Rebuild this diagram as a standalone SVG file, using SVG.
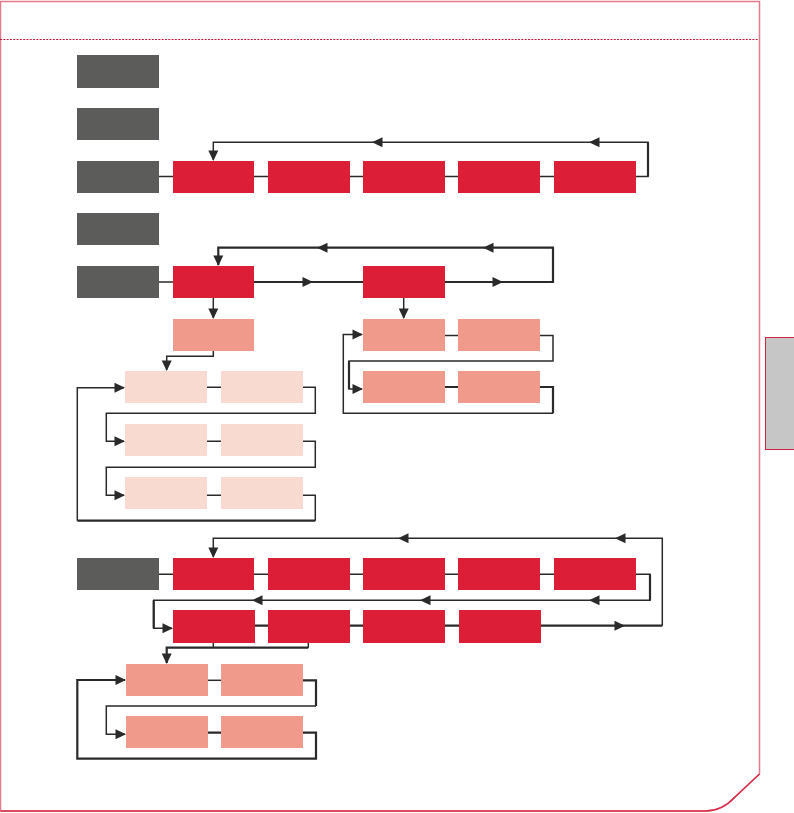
<svg xmlns="http://www.w3.org/2000/svg" width="794" height="813" viewBox="0 0 794 813">
<style>
.g{fill:#5c5c5a}
.r{fill:#dc1f36}
.p{fill:#ef9a8a}
.l{fill:#f8dad1}
.c{fill:none;stroke:#2a2a2a;stroke-width:1.5}
.t{fill:none;stroke:#2a2a2a;stroke-width:2.2}
.a{fill:#2a2a2a}
</style>
<defs>
<path id="ah" d="M0,0 L-10.5,-5 L-10.5,5 Z"/>
</defs>
<g id="page">
<path d="M0.5,811 L0.5,1.5 L759.5,1.5 L759.5,774 L735,797 Q722,811 706,811 Z" fill="none" stroke="#e27b8a" stroke-width="1.5"/>
<path d="M0.5,811 L706,811 Q722,811 735,797 L759.5,774" fill="none" stroke="#d8304a" stroke-width="1.5"/>
<line x1="0" y1="39.5" x2="759" y2="39.5" stroke="#c41a3a" stroke-width="1.2" stroke-dasharray="2,1.3"/>
<rect x="765.5" y="337.5" width="30" height="112" fill="#c6c6c6" stroke="#d0223a" stroke-width="1"/>
</g>
<g id="connectors">
<path class="c" d="M159,176.5 H636"/>
<path class="c" d="M636,176.5 H648 V142.3 H213.3 V160"/>
<path class="t" d="M648,176.5 V142.3"/>
<use href="#ah" class="a" transform="translate(589,142.3) rotate(180)"/>
<use href="#ah" class="a" transform="translate(372,142.3) rotate(180)"/>
<use href="#ah" class="a" transform="translate(213.3,161) rotate(90)"/>
<path class="c" d="M159,282 H173"/>
<path class="t" d="M254,282 H363 M445,282 H553 V247.7 H218.3 V265"/>
<use href="#ah" class="a" transform="translate(313,282)"/>
<use href="#ah" class="a" transform="translate(503,282)"/>
<use href="#ah" class="a" transform="translate(483,247.7) rotate(180)"/>
<use href="#ah" class="a" transform="translate(317,247.7) rotate(180)"/>
<use href="#ah" class="a" transform="translate(218.3,266) rotate(90)"/>
<path class="c" d="M213.3,298 V318"/>
<use href="#ah" class="a" transform="translate(213.3,319) rotate(90)"/>
<path class="c" d="M403.7,298 V318"/>
<use href="#ah" class="a" transform="translate(403.7,319) rotate(90)"/>
<path class="c" d="M445,335.5 H458 M540,335.5 H553 V361 H349 V389 H362"/>
<path class="t" d="M349,361 V389"/>
<use href="#ah" class="a" transform="translate(363,389)"/>
<path class="t" d="M445,387 H458 M540,387 H553 V413.3"/>
<path class="c" d="M553,413.3 H343.3 V334.5 H362"/>
<use href="#ah" class="a" transform="translate(363,334.5)"/>
<path class="c" d="M213.3,351 V356.3 H166.7 V370"/>
<use href="#ah" class="a" transform="translate(166.7,371) rotate(90)"/>
<path class="c" d="M207,387.3 H221 M303,387.3 H315.3 V413.3 H106.3 V441.3 H124"/>
<use href="#ah" class="a" transform="translate(125,441.3)"/>
<path class="c" d="M207,441.3 H221 M303,441.3 H315.3 V467.3 H106.3 V495.3 H124"/>
<use href="#ah" class="a" transform="translate(125,495.3)"/>
<path class="c" d="M207,495.3 H221 M303,495.3 H315.3 V520.7"/>
<path class="t" d="M315.3,520.7 H77.3"/>
<path class="c" d="M77.3,520.7 V387.7 H124"/>
<use href="#ah" class="a" transform="translate(125,387.7)"/>
<path class="c" d="M159,574.3 H636"/>
<path class="c" d="M636,574.3 H650 V600.3 H153.7 V628.3 H172"/>
<path class="t" d="M650,574.3 V600.3 M153.7,600.3 V628.3"/>
<use href="#ah" class="a" transform="translate(589,600.3) rotate(180)"/>
<use href="#ah" class="a" transform="translate(420,600.3) rotate(180)"/>
<use href="#ah" class="a" transform="translate(252,600.3) rotate(180)"/>
<use href="#ah" class="a" transform="translate(173,628.3)"/>
<path class="t" d="M255,625.7 H268 M350,625.7 H363 M445,625.7 H459 M541,625.7 H662.3"/>
<path class="c" d="M662.3,625.7 V538.3 H213.3 V557"/>
<use href="#ah" class="a" transform="translate(625,625.7)"/>
<use href="#ah" class="a" transform="translate(615,538.3) rotate(180)"/>
<use href="#ah" class="a" transform="translate(398,538.3) rotate(180)"/>
<use href="#ah" class="a" transform="translate(213.3,558) rotate(90)"/>
<path class="c" d="M213.3,642.7 V647.7 M308.3,642.7 V647.7"/>
<path class="t" d="M308.3,647.7 H166.7 V663"/>
<use href="#ah" class="a" transform="translate(166.7,664) rotate(90)"/>
<path class="c" d="M208,680.3 H221"/>
<path class="t" d="M303,680.3 H316 V706"/>
<path class="c" d="M316,706 H106.3 V734.3 H125"/>
<use href="#ah" class="a" transform="translate(126,734.3)"/>
<path class="t" d="M208,732.7 H221 M303,732.7 H316 V758.7 H77.3 V680 H125"/>
<use href="#ah" class="a" transform="translate(126,680)"/>
</g>
<g id="n-g1"><rect class="g" x="77" y="55" width="82" height="33"/></g>
<g id="n-g2"><rect class="g" x="77" y="108" width="82" height="32"/></g>
<g id="n-g3"><rect class="g" x="77" y="161" width="82" height="32"/></g>
<g id="n-g4"><rect class="g" x="77" y="213" width="82" height="32"/></g>
<g id="n-g5"><rect class="g" x="77" y="266" width="82" height="32"/></g>
<g id="n-g6"><rect class="g" x="77" y="558" width="82" height="32"/></g>
<g id="n-r3a"><rect class="r" x="173" y="161" width="81" height="32"/></g>
<g id="n-r3b"><rect class="r" x="268" y="161" width="82" height="32"/></g>
<g id="n-r3c"><rect class="r" x="363" y="161" width="82" height="32"/></g>
<g id="n-r3d"><rect class="r" x="458" y="161" width="82" height="32"/></g>
<g id="n-r3e"><rect class="r" x="554" y="161" width="82" height="32"/></g>
<g id="n-r5a"><rect class="r" x="173" y="266" width="81" height="32"/></g>
<g id="n-r5b"><rect class="r" x="363" y="266" width="82" height="32"/></g>
<g id="n-p5a"><rect class="p" x="173" y="319" width="81" height="32"/></g>
<g id="n-p5b"><rect class="p" x="363" y="319" width="82" height="32"/></g>
<g id="n-p5c"><rect class="p" x="458" y="319" width="82" height="32"/></g>
<g id="n-p5d"><rect class="p" x="363" y="371" width="82" height="32"/></g>
<g id="n-p5e"><rect class="p" x="458" y="371" width="82" height="32"/></g>
<g id="n-l1a"><rect class="l" x="125" y="371" width="82" height="32"/></g>
<g id="n-l1b"><rect class="l" x="221" y="371" width="82" height="32"/></g>
<g id="n-l2a"><rect class="l" x="125" y="424" width="82" height="32"/></g>
<g id="n-l2b"><rect class="l" x="221" y="424" width="82" height="32"/></g>
<g id="n-l3a"><rect class="l" x="125" y="477" width="82" height="32"/></g>
<g id="n-l3b"><rect class="l" x="221" y="477" width="82" height="32"/></g>
<g id="n-r6a"><rect class="r" x="173" y="558" width="81" height="32"/></g>
<g id="n-r6b"><rect class="r" x="268" y="558" width="82" height="32"/></g>
<g id="n-r6c"><rect class="r" x="363" y="558" width="82" height="32"/></g>
<g id="n-r6d"><rect class="r" x="458" y="558" width="82" height="32"/></g>
<g id="n-r6e"><rect class="r" x="554" y="558" width="82" height="32"/></g>
<g id="n-r7a"><rect class="r" x="173" y="610" width="82" height="33"/></g>
<g id="n-r7b"><rect class="r" x="268" y="610" width="82" height="33"/></g>
<g id="n-r7c"><rect class="r" x="363" y="610" width="82" height="33"/></g>
<g id="n-r7d"><rect class="r" x="459" y="610" width="82" height="33"/></g>
<g id="n-p8a"><rect class="p" x="126" y="664" width="82" height="32"/></g>
<g id="n-p8b"><rect class="p" x="221" y="664" width="82" height="32"/></g>
<g id="n-p8c"><rect class="p" x="126" y="716" width="82" height="32"/></g>
<g id="n-p8d"><rect class="p" x="221" y="716" width="82" height="32"/></g>
</svg>
